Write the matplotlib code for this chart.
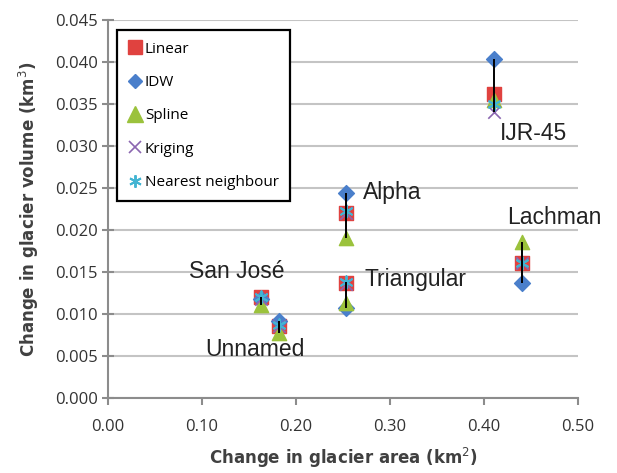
import matplotlib.pyplot as plt
from matplotlib.lines import Line2D

# glaciers and change in area (km2)
glaciers = ["San José", "Unnamed", "Alpha", "Triangular", "IJR-45", "Lachman"]
area = [0.163, 0.182, 0.253, 0.253, 0.410, 0.440]

# change in volume (km3) per interpolation method
linear = [0.0120, 0.0085, 0.0220, 0.0137, 0.0362, 0.0160]
idw = [0.0118, 0.0091, 0.0244, 0.0107, 0.0403, 0.0137]
spline = [0.0110, 0.0077, 0.0190, 0.0113, 0.0355, 0.0186]
kriging = [0.0118, 0.0086, 0.0220, 0.0135, 0.0340, 0.0160]
nearest = [0.0120, 0.0087, 0.0222, 0.0138, 0.0350, 0.0161]

label_pos = {
    "San José": (0.137, 0.0150, "center"),
    "Unnamed": (0.156, 0.0058, "center"),
    "Alpha": (0.271, 0.0244, "left"),
    "Triangular": (0.273, 0.0141, "left"),
    "IJR-45": (0.417, 0.0315, "left"),
    "Lachman": (0.425, 0.0215, "left"),
}

fig = plt.figure(figsize=(6.17, 4.73), dpi=100)
ax = fig.add_axes([0.175, 0.159, 0.762, 0.799])

lows = [min(v) for v in zip(linear, idw, spline, kriging, nearest)]
highs = [max(v) for v in zip(linear, idw, spline, kriging, nearest)]

ax.scatter(area, linear, marker="s", s=100, color="#E0423F", zorder=3)
ax.scatter(area, idw, marker="D", s=65, color="#4A7FCB", zorder=3)
ax.scatter(area, spline, marker="^", s=105, color="#9BC23C", zorder=3)
ax.scatter(area, kriging, marker="x", s=80, color="#8B66B0", lw=1.2, zorder=4)
ax.scatter(area, nearest, marker=(6, 2, 0), s=80, color="#43B4D2", lw=1.4, zorder=4)
# high-low bars
ax.vlines(area, lows, highs, color="black", lw=1.4, zorder=5)

for g in glaciers:
    x, y, ha = label_pos[g]
    ax.text(x, y, g, ha=ha, va="center", fontsize=16.5, color="#222222",
            family="Liberation Sans", zorder=6)

ax.set_xlim(0, 0.5)
ax.set_ylim(0, 0.045)
ax.set_xticks([0, 0.1, 0.2, 0.3, 0.4, 0.5])
ax.set_xticklabels(["0.00", "0.10", "0.20", "0.30", "0.40", "0.50"])
ax.set_yticks([i * 0.005 for i in range(10)])
ax.set_yticklabels(["%.3f" % (i * 0.005) for i in range(10)])
ax.yaxis.grid(True, color="#C4C4C4", lw=1.5)
ax.set_axisbelow(True)
for s in ["top", "right"]:
    ax.spines[s].set_visible(False)
for s in ["left", "bottom"]:
    ax.spines[s].set_color("#8C8C8C")
    ax.spines[s].set_linewidth(1.5)
ax.tick_params(axis="y", direction="inout", length=9, width=1.5, color="#8C8C8C",
               labelsize=12, labelcolor="#333333", pad=3)
ax.tick_params(axis="x", direction="out", length=5, width=1.5, color="#8C8C8C",
               labelsize=12, labelcolor="#333333", pad=10)
for t in ax.get_xticklabels() + ax.get_yticklabels():
    t.set_family("Open Sans")

ax.set_xlabel("Change in glacier area (km$^2$)", fontsize=12, fontweight="bold",
              color="#404040", labelpad=8)
ax.set_ylabel("Change in glacier volume (km$^3$)", fontsize=12, fontweight="bold",
              color="#404040", labelpad=10)

handles = [
    Line2D([], [], ls="", marker="s", ms=10, color="#E0423F"),
    Line2D([], [], ls="", marker="D", ms=7, color="#4A7FCB"),
    Line2D([], [], ls="", marker="^", ms=11, color="#9BC23C"),
    Line2D([], [], ls="", marker="x", ms=9, mew=1.2, color="#8B66B0"),
    Line2D([], [], ls="", marker=(6, 2, 0), ms=9, mew=1.4, color="#43B4D2"),
]
leg = ax.legend(handles, ["Linear", "IDW", "Spline", "Kriging", "Nearest neighbour"],
                loc="upper left", bbox_to_anchor=(0.02, 0.973),
                frameon=True, fancybox=False, handlelength=0.8, handletextpad=0.25,
                labelspacing=1.2, borderpad=0.75, borderaxespad=0,
                prop={"family": "Open Sans", "size": 11})
leg.get_frame().set_edgecolor("black")
leg.get_frame().set_linewidth(1.6)
leg.get_frame().set_alpha(1)

fig.savefig("out.png", dpi=100)
